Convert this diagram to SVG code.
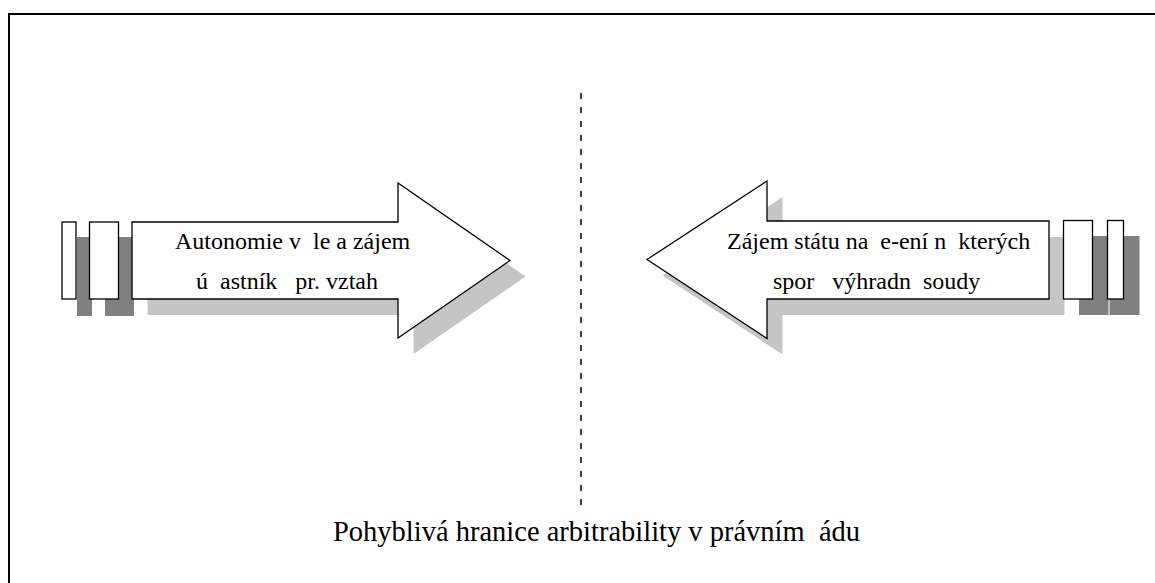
<svg xmlns="http://www.w3.org/2000/svg" width="1155" height="583" viewBox="0 0 1155 583">
  <defs>
    <pattern id="dither" width="2" height="2" patternUnits="userSpaceOnUse">
      <rect width="2" height="2" fill="#d6d6d6"/>
      <rect width="1" height="1" fill="#b4b4b4"/>
      <rect x="1" y="1" width="1" height="1" fill="#b4b4b4"/>
    </pattern>
  </defs>
  <style>
    .frame { fill: none; stroke: #000; stroke-width: 2; }
    .divider { stroke: #000; stroke-width: 1.5; stroke-dasharray: 6 8; }
    .shape { fill: #fff; stroke: #000; stroke-width: 1.3; }
    .soft-shadow { fill: url(#dither); }
    .hard-shadow { fill: #808080; }
    .label { font-family: "Liberation Serif", "Times New Roman", serif; font-size: 24px; fill: #000; white-space: pre; }
    .title { font-family: "Liberation Serif", "Times New Roman", serif; font-size: 28.5px; fill: #000; white-space: pre; }
  </style>

  <rect class="frame" x="9" y="14" width="1200" height="600"/>

  <g id="connectors">
    <line class="divider" x1="581" y1="93" x2="581" y2="505"/>
  </g>

  <!-- left arrow pointing right -->
  <g id="arrow-left">
    <rect class="hard-shadow" x="77" y="237" width="15" height="79"/>
    <rect class="hard-shadow" x="105" y="237" width="29" height="79"/>
    <polygon class="soft-shadow" transform="translate(15.5,16)" points="132,222 398,222 398,183 510,260.5 398,338 398,299 132,299"/>
    <rect class="shape" x="62" y="222" width="14" height="77"/>
    <rect class="shape" x="89.5" y="222" width="29" height="77"/>
    <polygon class="shape" points="132,222 398,222 398,183 510,260.5 398,338 398,299 132,299"/>
    <text class="label" x="175" y="249" xml:space="preserve">Autonomie v  le a zájem</text>
    <text class="label" x="196" y="289" xml:space="preserve">ú  astník   pr. vztah</text>
  </g>

  <!-- right arrow pointing left -->
  <g id="arrow-right">
    <polygon class="soft-shadow" transform="translate(15.5,16)" points="647,259.5 767,181 767,221 1049,221 1049,299 767,299 767,338.5"/>
    <rect class="hard-shadow" x="1079" y="236" width="29.5" height="79"/>
    <rect class="hard-shadow" x="1109.5" y="236" width="30" height="79"/>
    <rect class="shape" x="1063.5" y="220.5" width="29" height="78.5"/>
    <rect class="shape" x="1107.5" y="220.5" width="16" height="78.5"/>
    <polygon class="shape" points="647,259.5 767,181 767,221 1049,221 1049,299 767,299 767,338.5"/>
    <text class="label" x="727" y="249" xml:space="preserve">Zájem státu na  e-ení n  kterých</text>
    <text class="label" x="773" y="289" xml:space="preserve">spor   výhradn  soudy</text>
  </g>

  <g id="caption">
    <text class="title" x="333" y="541" xml:space="preserve">Pohyblivá hranice arbitrability v právním  ádu</text>
  </g>
</svg>
